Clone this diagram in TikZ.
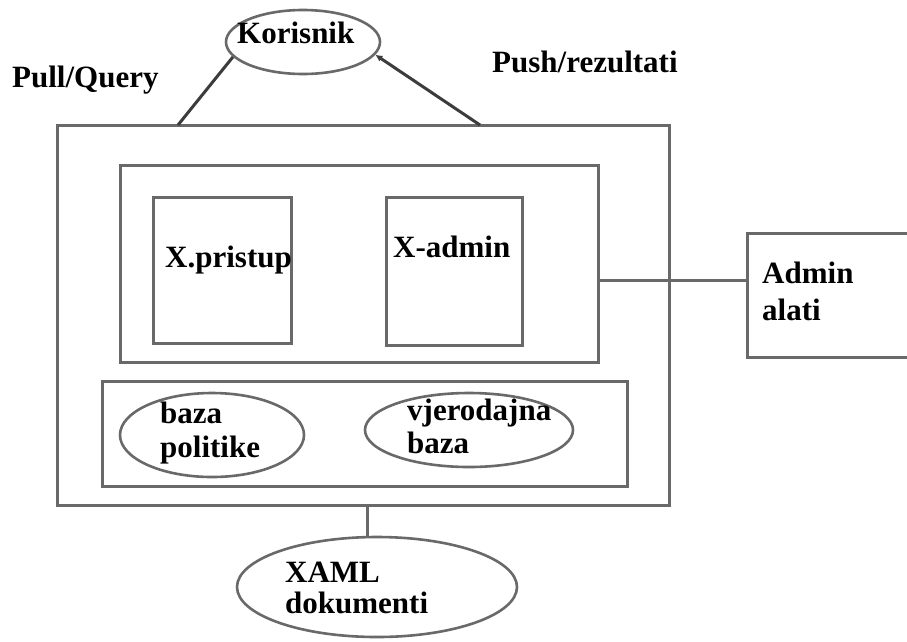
\documentclass[tikz,border=0pt]{standalone}
\usepackage{fontspec}
\setmainfont{Liberation Serif}
\usetikzlibrary{shapes.geometric,arrows.meta}
\definecolor{ln}{RGB}{105,105,105}
\definecolor{lk}{RGB}{60,60,60}
\begin{document}
\begin{tikzpicture}[x=1pt,y=-1pt,
 box/.style={draw=ln,line width=3pt,inner sep=0pt,rectangle},
 ell/.style={draw=ln,line width=2.6pt,ellipse,inner sep=0pt},
 lbl/.style={font=\fontsize{31}{35}\selectfont\bfseries,anchor=base west,inner sep=0pt,align=left},
 conn/.style={draw=ln,line width=3pt},
 connk/.style={draw=lk,line width=3pt}]
\clip (0,0) rectangle (907,641);
\fill[white] (0,0) rectangle (907,641);
% boxes
\node[box,minimum width=612pt,minimum height=380pt] (outer) at (363,315) {};
\node[box,minimum width=478pt,minimum height=197pt] (inner1) at (359,263.5) {};
\node[box,minimum width=138pt,minimum height=146pt] (xp) at (222,270) {};
\node[box,minimum width=136pt,minimum height=148pt] (xa) at (454,271) {};
\node[box,minimum width=525pt,minimum height=105pt] (inner2) at (364.5,433.5) {};
\node[box,minimum width=193pt,minimum height=124pt] (admin) at (843.5,295) {};
% ellipses
\node[ell,minimum width=154pt,minimum height=64pt] (kor) at (303,42) {};
\node[ell,minimum width=184pt,minimum height=84pt] (bp) at (212,435) {};
\node[ell,minimum width=208pt,minimum height=74pt] (vb) at (469,430) {};
\node[ell,minimum width=280pt,minimum height=100pt] (xaml) at (377,587) {};
% connectors
\coordinate (pq) at (178,125);
\coordinate (pr) at (480,125);
\draw[connk] (pq) -- (kor.192);
\draw[connk,-{Latex[length=7pt,width=7pt]}] (pr) -- (kor.-10);
\coordinate (c1) at (598,280);
\draw[conn] (c1) -- (c1 -| admin.west);
\coordinate (xl) at (367,505);
\draw[conn] (xl) -- (xl |- xaml.north);
% labels
\node[lbl] (tkor) at (237,43) {Korisnik};
\node[lbl] (tpull) at (12,87) {Pull/Query};
\node[lbl] (tpush) at (492,72) {Push/rezultati};
\node[lbl] (txp) at (165,267) {X.pristup};
\node[lbl] (txa) at (393,257) {X-admin};
\node[lbl,font=\fontsize{31}{37}\selectfont\bfseries] (tadm) at (762,320) {Admin\\alati};
\node[lbl,font=\fontsize{31}{34}\selectfont\bfseries] (tbp) at (160,457) {baza\\politike};
\node[lbl,font=\fontsize{31}{33}\selectfont\bfseries] (tvb) at (407,453) {vjerodajna\\baza};
\node[lbl,font=\fontsize{31}{31}\selectfont\bfseries] (txaml) at (285,613) {XAML\\dokumenti};
\end{tikzpicture}
\end{document}
